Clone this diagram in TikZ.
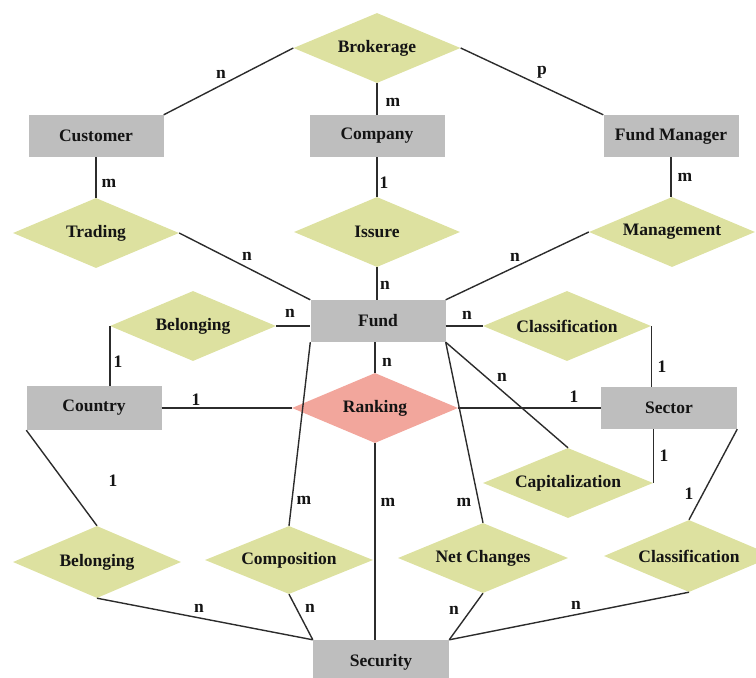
\documentclass[tikz,border=0pt]{standalone}
\usepackage{fontspec}
\setmainfont{Liberation Serif}
\usetikzlibrary{shapes.geometric}
\definecolor{relfill}{RGB}{221,225,160}
\definecolor{entfill}{RGB}{190,190,190}
\definecolor{rankfill}{RGB}{242,166,156}
\definecolor{ink}{RGB}{20,20,20}
\begin{document}
\begin{tikzpicture}[x=1pt,y=-1pt,
  ent/.style={rectangle,fill=entfill,minimum width=135pt,minimum height=42pt,inner sep=0pt,
    font=\fontsize{17.5}{20}\selectfont\bfseries,text=ink},
  rel/.style={diamond,fill=relfill,minimum width=167pt,minimum height=70pt,inner sep=0pt,
    shape aspect=2.4,font=\fontsize{17.5}{20}\selectfont\bfseries,text=ink},
  card/.style={inner sep=0pt,font=\fontsize{17.5}{20}\selectfont\bfseries,text=ink},
  conn/.style={draw=ink!90,line width=1.4pt}]
\useasboundingbox (0,0) rectangle (756,678);
% entities
\node[ent] (cust) at (96,136) {Customer};
\node[ent] (comp) at (377,136) {Company};
\node[ent] (fm) at (671,136) {Fund Manager};
\node[ent] (fund) at (378,321) {Fund};
\node[ent,minimum height=44pt] (country) at (94,408) {Country};
\node[ent,minimum width=136pt] (sector) at (669,408) {Sector};
\node[ent,minimum width=136pt,minimum height=44pt] (sec) at (381,662) {Security};
% relationships
\node[rel] (bro) at (377,48) {Brokerage};
\node[rel,minimum width=166pt] (trad) at (96,233) {Trading};
\node[rel,minimum width=166pt] (iss) at (377,232) {Issure};
\node[rel,minimum width=166pt] (mgmt) at (672,232) {Management};
\node[rel,minimum width=166pt] (bel1) at (193,326) {Belonging};
\node[rel,minimum width=168pt] (cls1) at (567,326) {Classification};
\node[rel,minimum width=166pt,fill=rankfill] (rank) at (375,408) {Ranking};
\node[rel,minimum width=170pt] (cap) at (568,483) {Capitalization};
\node[rel,minimum width=168pt,minimum height=72pt] (bel2) at (97,562) {Belonging};
\node[rel,minimum width=168pt,minimum height=68pt] (compo) at (289,560) {Composition};
\node[rel,minimum width=170pt] (net) at (483,558) {Net Changes};
\node[rel,minimum width=170pt,minimum height=72pt] (cls2) at (689,556) {Classification};
% connectors
\draw[conn] (bro.west) -- (cust.north east);
\draw[conn] (bro.east) -- (fm.north west);
\draw[conn] (bro.south) -- (bro.south |- comp.north);
\draw[conn] (cust.south) -- (trad.north);
\draw[conn] (trad.east) -- (fund.north west);
\draw[conn] (comp.south) -- (comp.south |- iss.north);
\draw[conn] (iss.south) -- (iss.south |- fund.north);
\draw[conn] (fm.south) -- (fm.south |- mgmt.north);
\draw[conn] (mgmt.west) -- (fund.north east);
\draw[conn] (bel1.east) -- (bel1.east -| fund.west);
\draw[conn] (bel1.west) -- (bel1.west |- country.north);
\draw[conn] (fund.east |- cls1.west) -- (cls1.west);
\draw[conn] (cls1.east) -- (cls1.east |- sector.north);
\draw[conn] (country.east) -- (rank.west);
\draw[conn] (rank.east) -- (sector.west);
\draw[conn] (rank.north |- fund.south) -- (rank.north);
\draw[conn] (rank.south) -- (rank.south |- sec.north);
\draw[conn] (fund.south east) -- (cap.north);
\draw[conn] (cap.east |- sector.south) -- (cap.east);
\draw[conn] (fund.south west) -- (compo.north);
\draw[conn] (fund.south east) -- (net.north);
\draw[conn] (country.south west) -- (bel2.north);
\draw[conn] (sector.south east) -- (cls2.north);
\draw[conn] (bel2.south) -- (sec.north west);
\draw[conn] (compo.south) -- (sec.north west);
\draw[conn] (net.south) -- (sec.north east);
\draw[conn] (cls2.south) -- (sec.north east);
% cardinalities
\node[card] (c1) at (221,74) {n};
\node[card] (c2) at (542,72) {p};
\node[card] (c3) at (393,102) {m};
\node[card] (c4) at (109,183) {m};
\node[card] (c5) at (384,183) {1};
\node[card] (c6) at (685,177) {m};
\node[card] (c7) at (247,256) {n};
\node[card] (c8) at (385,285) {n};
\node[card] (c9) at (515,257) {n};
\node[card] (c10) at (290,313) {n};
\node[card] (c11) at (118,362) {1};
\node[card] (c12) at (467,315) {n};
\node[card] (c13) at (662,367) {1};
\node[card] (c14) at (196,400) {1};
\node[card] (c15) at (387,362) {n};
\node[card] (c16) at (574,397) {1};
\node[card] (c17) at (502,377) {n};
\node[card] (c18) at (664,456) {1};
\node[card] (c19) at (113,481) {1};
\node[card] (c20) at (304,500) {m};
\node[card] (c21) at (388,502) {m};
\node[card] (c22) at (464,502) {m};
\node[card] (c23) at (689,494) {1};
\node[card] (c24) at (199,608) {n};
\node[card] (c25) at (310,608) {n};
\node[card] (c26) at (454,610) {n};
\node[card] (c27) at (576,605) {n};
\end{tikzpicture}
\end{document}
